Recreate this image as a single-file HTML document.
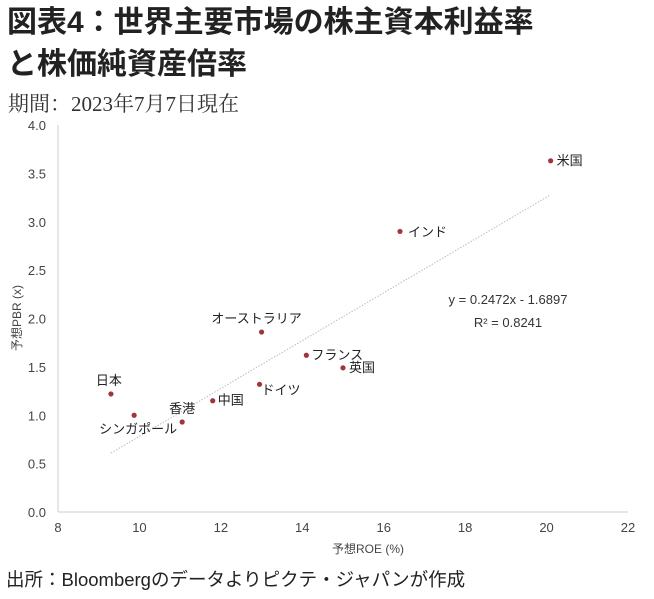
<!DOCTYPE html>
<html><head><meta charset="utf-8"><style>
body{margin:0;background:#fff;width:654px;height:599px;overflow:hidden;font-family:"Liberation Sans","Noto Sans CJK JP",sans-serif;}
.t{position:absolute;left:7px;font-weight:bold;font-size:30px;color:#222;letter-spacing:0px;line-height:1}
</style></head><body>
<div class="t" style="top:8px">図表4：世界主要市場の株主資本利益率</div>
<div class="t" style="top:50px">と株価純資産倍率</div>
<div style="position:absolute;left:8px;top:88px;font-size:21px;color:#333;font-family:'Liberation Serif','Noto Serif CJK SC',serif">期間：2023年7月7日現在</div>
<svg id="chart" width="654" height="599" style="position:absolute;left:0;top:0"></svg>
<div style="position:absolute;left:6px;top:566px;font-size:18.5px;color:#222">出所：Bloombergのデータよりピクテ・ジャパンが作成</div>
<script>
const countries=["米国","インド","オーストラリア","フランス","英国","ドイツ","中国","香港","日本","シンガポール"];
const roe=[20.1,16.4,13.0,14.1,15.0,12.95,11.8,11.05,9.3,9.87];
const pbr=[3.63,2.9,1.86,1.62,1.49,1.32,1.15,0.93,1.22,1.0];
const xTicks=[8,10,12,14,16,18,20,22];
const yTicks=[0,0.5,1,1.5,2,2.5,3,3.5,4];
const slope=0.2472, intercept=-1.6897;
const NS="http://www.w3.org/2000/svg";
const svg=document.getElementById('chart');
const X=v=>58+(v-8)/14*570, Y=v=>512-v/4*387;
function mk(t,a,p){const e=document.createElementNS(NS,t);for(const k in a)e.setAttribute(k,a[k]);(p||svg).appendChild(e);return e;}
const ax=mk('line',{x1:58,y1:512,x2:628,y2:512,stroke:'#ccc','stroke-width':1});

const ay=mk('line',{x1:58,y1:125,x2:58,y2:512,stroke:'#ccc','stroke-width':1});

xTicks.forEach(v=>{const t=mk('text',{x:X(v),y:532,'text-anchor':'middle','font-size':13,fill:'#444'});t.textContent=v;
});
yTicks.forEach(v=>{const t=mk('text',{x:46,y:Y(v)+5,'text-anchor':'end','font-size':13,fill:'#444'});t.textContent=v.toFixed(1);
});
const xt=mk('text',{x:368,y:553,'text-anchor':'middle','font-size':12,fill:'#444'});xt.textContent='予想ROE (%)';

const yt=mk('text',{x:0,y:0,'text-anchor':'middle','font-size':12,fill:'#444',transform:'translate(21,318) rotate(-90)'});yt.textContent='予想PBR (x)';

const x0=Math.min(...roe),x1=Math.max(...roe);
const tl=mk('line',{x1:X(x0),y1:Y(slope*x0+intercept),x2:X(x1),y2:Y(slope*x1+intercept),stroke:'#bbb','stroke-width':1,'stroke-dasharray':'1.5 1.5'});

const eq=mk('text',{x:508,y:304,'text-anchor':'middle','font-size':13,fill:'#333'});eq.textContent='y = 0.2472x - 1.6897';

const r2=mk('text',{x:508,y:327,'text-anchor':'middle','font-size':13,fill:'#333'});r2.textContent='R² = 0.8241';

const off={"米国":[6,4,'start'],"インド":[8,5,'start'],"オーストラリア":[-5,-9,'middle'],"フランス":[5,4,'start'],"英国":[6,4,'start'],"ドイツ":[2,10,'start'],"中国":[5,4,'start'],"香港":[0,-9,'middle'],"日本":[-2,-9,'middle'],"シンガポール":[4,18,'middle']};
countries.forEach((c,i)=>{
 const p=mk('circle',{cx:X(roe[i]),cy:Y(pbr[i]),r:2.6,fill:'#a0353c'});
 
 const o=off[c];
 const t=mk('text',{x:X(roe[i])+o[0],y:Y(pbr[i])+o[1],'text-anchor':o[2],'font-size':13,fill:'#222'});t.textContent=c;
 
});
</script>
</body></html>
